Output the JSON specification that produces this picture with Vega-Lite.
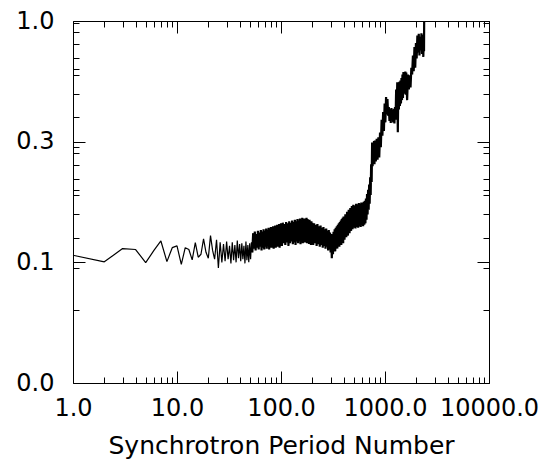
{
  "$schema": "https://vega.github.io/schema/vega-lite/v6.json",
  "width": 416,
  "height": 362,
  "autosize": {"type": "none"},
  "padding": {"left": 73, "top": 21, "right": 60, "bottom": 82},
  "background": "white",
  "data": {"values": [
    {"x":1,"y":0.107},{"x":2,"y":0.1005},{"x":3,"y":0.114},{"x":4,"y":0.113},{"x":5,"y":0.0997},{"x":6,"y":0.112},{"x":7,"y":0.1226},{"x":8,"y":0.1007},{"x":9,"y":0.115},{"x":10,"y":0.117},
    {"x":11,"y":0.098},{"x":12,"y":0.115},{"x":13,"y":0.113},{"x":14,"y":0.1024},{"x":15,"y":0.1206},{"x":16,"y":0.105},{"x":17,"y":0.108},{"x":18,"y":0.125},{"x":19,"y":0.110},{"x":20,"y":0.104},
    {"x":21,"y":0.129},{"x":22,"y":0.112},{"x":23,"y":0.103},{"x":24,"y":0.124},{"x":25,"y":0.0948},{"x":26,"y":0.121},{"x":27,"y":0.100},{"x":28,"y":0.119},{"x":29,"y":0.101},{"x":30,"y":0.122},
    {"x":31,"y":0.103},{"x":32,"y":0.117},{"x":33,"y":0.099},{"x":34,"y":0.121},{"x":35,"y":0.102},{"x":36,"y":0.118},{"x":37,"y":0.100},{"x":38,"y":0.123},{"x":39,"y":0.104},{"x":40,"y":0.119},
    {"x":41,"y":0.101},{"x":42,"y":0.120},{"x":43,"y":0.103},{"x":44,"y":0.117},{"x":45,"y":0.099},{"x":46,"y":0.122},{"x":47,"y":0.102},{"x":48,"y":0.118},{"x":49,"y":0.100},{"x":50,"y":0.120},
    {"x":51,"y":0.103},{"x":52,"y":0.121},{"x":53,"y":0.110},
    {"x":54,"y":0.132},{"x":55,"y":0.114},{"x":56,"y":0.134},{"x":57,"y":0.112},{"x":58,"y":0.131},{"x":59,"y":0.115},{"x":60,"y":0.135},{"x":61,"y":0.113},{"x":62,"y":0.133},{"x":63,"y":0.116},
    {"x":64,"y":0.136},{"x":65,"y":0.112},{"x":66,"y":0.134},{"x":67,"y":0.115},{"x":68,"y":0.137},{"x":69,"y":0.113},{"x":70,"y":0.135},{"x":71,"y":0.116},{"x":72,"y":0.138},{"x":73,"y":0.114},
    {"x":74,"y":0.136},{"x":75,"y":0.117},{"x":76,"y":0.139},{"x":77,"y":0.113},{"x":78,"y":0.137},{"x":79,"y":0.116},{"x":80,"y":0.140},{"x":81,"y":0.115},{"x":82,"y":0.138},{"x":83,"y":0.117},
    {"x":84,"y":0.141},{"x":85,"y":0.114},{"x":86,"y":0.139},{"x":87,"y":0.118},{"x":88,"y":0.142},{"x":89,"y":0.115},{"x":90,"y":0.140},{"x":91,"y":0.117},{"x":92,"y":0.143},{"x":93,"y":0.116},
    {"x":94,"y":0.141},{"x":95,"y":0.118},{"x":96,"y":0.144},{"x":97,"y":0.115},{"x":98,"y":0.142},{"x":99,"y":0.119},{"x":100,"y":0.145},
    {"x":102,"y":0.117},{"x":104,"y":0.146},{"x":106,"y":0.120},{"x":108,"y":0.144},{"x":110,"y":0.118},{"x":112,"y":0.147},{"x":114,"y":0.121},{"x":116,"y":0.145},{"x":118,"y":0.117},{"x":120,"y":0.148},
    {"x":122,"y":0.120},{"x":124,"y":0.146},{"x":126,"y":0.122},{"x":128,"y":0.149},{"x":130,"y":0.119},{"x":132,"y":0.147},{"x":134,"y":0.121},{"x":136,"y":0.150},{"x":138,"y":0.118},{"x":140,"y":0.148},
    {"x":142,"y":0.122},{"x":144,"y":0.151},{"x":146,"y":0.120},{"x":148,"y":0.149},{"x":150,"y":0.123},{"x":152,"y":0.152},{"x":154,"y":0.119},{"x":156,"y":0.150},{"x":158,"y":0.122},{"x":160,"y":0.153},
    {"x":162,"y":0.120},{"x":164,"y":0.149},{"x":166,"y":0.123},{"x":168,"y":0.152},{"x":170,"y":0.121},{"x":172,"y":0.150},{"x":174,"y":0.124},{"x":176,"y":0.153},{"x":178,"y":0.120},{"x":180,"y":0.151},
    {"x":182,"y":0.122},{"x":184,"y":0.149},{"x":186,"y":0.119},{"x":188,"y":0.150},{"x":190,"y":0.121},{"x":192,"y":0.147},{"x":194,"y":0.118},{"x":196,"y":0.148},{"x":198,"y":0.120},{"x":200,"y":0.146},
    {"x":204,"y":0.118},{"x":208,"y":0.145},{"x":212,"y":0.120},{"x":216,"y":0.143},{"x":220,"y":0.117},{"x":224,"y":0.144},{"x":228,"y":0.119},{"x":232,"y":0.141},{"x":236,"y":0.116},{"x":240,"y":0.142},
    {"x":244,"y":0.118},{"x":248,"y":0.139},{"x":252,"y":0.115},{"x":256,"y":0.140},{"x":260,"y":0.117},{"x":264,"y":0.137},{"x":268,"y":0.114},{"x":272,"y":0.138},{"x":276,"y":0.116},{"x":280,"y":0.135},
    {"x":284,"y":0.112},{"x":288,"y":0.136},{"x":292,"y":0.113},{"x":296,"y":0.133},{"x":300,"y":0.110},{"x":304,"y":0.131},{"x":308,"y":0.104},{"x":312,"y":0.130},{"x":316,"y":0.108},{"x":320,"y":0.134},
    {"x":324,"y":0.112},{"x":328,"y":0.137},{"x":332,"y":0.111},{"x":336,"y":0.139},{"x":340,"y":0.115},{"x":344,"y":0.141},{"x":348,"y":0.114},{"x":352,"y":0.143},{"x":356,"y":0.117},{"x":360,"y":0.145},
    {"x":364,"y":0.116},{"x":368,"y":0.147},{"x":372,"y":0.119},{"x":376,"y":0.149},{"x":380,"y":0.118},{"x":384,"y":0.151},{"x":388,"y":0.121},{"x":392,"y":0.153},{"x":396,"y":0.120},{"x":400,"y":0.155},
    {"x":408,"y":0.124},{"x":416,"y":0.158},{"x":424,"y":0.127},{"x":432,"y":0.162},{"x":440,"y":0.129},{"x":448,"y":0.165},{"x":456,"y":0.132},{"x":464,"y":0.168},{"x":472,"y":0.135},{"x":480,"y":0.171},
    {"x":488,"y":0.137},{"x":496,"y":0.173},{"x":504,"y":0.139},{"x":512,"y":0.172},{"x":520,"y":0.138},{"x":528,"y":0.175},{"x":536,"y":0.140},{"x":544,"y":0.174},{"x":552,"y":0.139},{"x":560,"y":0.176},
    {"x":568,"y":0.141},{"x":576,"y":0.175},{"x":584,"y":0.140},{"x":592,"y":0.177},{"x":600,"y":0.142},{"x":608,"y":0.176},{"x":616,"y":0.141},{"x":624,"y":0.178},{"x":632,"y":0.143},{"x":640,"y":0.180},
    {"x":648,"y":0.145},{"x":656,"y":0.184},{"x":664,"y":0.150},{"x":672,"y":0.192},{"x":680,"y":0.158},{"x":688,"y":0.200},{"x":696,"y":0.165},{"x":704,"y":0.210},{"x":712,"y":0.175},{"x":720,"y":0.225},
    {"x":728,"y":0.190},{"x":736,"y":0.255},{"x":744,"y":0.215},{"x":752,"y":0.314},{"x":760,"y":0.250},{"x":768,"y":0.312},{"x":776,"y":0.256},{"x":784,"y":0.318},{"x":792,"y":0.255},{"x":800,"y":0.320},
    {"x":816,"y":0.262},{"x":832,"y":0.325},{"x":848,"y":0.266},{"x":864,"y":0.330},{"x":880,"y":0.272},{"x":896,"y":0.345},{"x":912,"y":0.300},{"x":928,"y":0.390},{"x":944,"y":0.335},{"x":960,"y":0.420},
    {"x":976,"y":0.350},{"x":992,"y":0.455},{"x":1008,"y":0.380},{"x":1024,"y":0.484},{"x":1040,"y":0.410},{"x":1056,"y":0.475},{"x":1072,"y":0.405},{"x":1088,"y":0.440},{"x":1104,"y":0.385},{"x":1120,"y":0.432},
    {"x":1136,"y":0.378},{"x":1152,"y":0.436},{"x":1168,"y":0.390},{"x":1184,"y":0.428},{"x":1200,"y":0.380},{"x":1216,"y":0.433},{"x":1232,"y":0.376},{"x":1248,"y":0.440},{"x":1264,"y":0.390},{"x":1280,"y":0.520},
    {"x":1296,"y":0.420},{"x":1312,"y":0.558},{"x":1328,"y":0.346},{"x":1344,"y":0.540},{"x":1360,"y":0.430},{"x":1376,"y":0.560},{"x":1392,"y":0.445},{"x":1408,"y":0.567},{"x":1424,"y":0.455},{"x":1440,"y":0.580},
    {"x":1456,"y":0.470},{"x":1472,"y":0.600},{"x":1488,"y":0.480},{"x":1504,"y":0.614},{"x":1520,"y":0.500},{"x":1536,"y":0.610},{"x":1552,"y":0.510},{"x":1568,"y":0.618},{"x":1584,"y":0.495},{"x":1600,"y":0.612},
    {"x":1632,"y":0.470},{"x":1664,"y":0.600},{"x":1696,"y":0.520},{"x":1728,"y":0.595},{"x":1760,"y":0.530},{"x":1792,"y":0.640},{"x":1824,"y":0.600},{"x":1856,"y":0.720},{"x":1888,"y":0.620},{"x":1920,"y":0.780},
    {"x":1952,"y":0.640},{"x":1984,"y":0.810},{"x":2016,"y":0.700},{"x":2048,"y":0.870},{"x":2080,"y":0.740},{"x":2112,"y":0.885},{"x":2144,"y":0.720},{"x":2176,"y":0.860},{"x":2208,"y":0.756},{"x":2240,"y":0.890},
    {"x":2272,"y":0.730},{"x":2304,"y":0.875},{"x":2336,"y":0.710},{"x":2360,"y":0.880},{"x":2372,"y":0.750},{"x":2380,"y":1.0}
  ]},
  "layer": [
    {
      "transform": [{"filter": "datum.x <= 54"}],
      "mark": {"type": "line", "color": "black", "strokeWidth": 1.2, "strokeJoin": "bevel"},
      "encoding": {
        "x": {"field": "x", "type": "quantitative",
          "scale": {"type": "log", "domain": [1, 10000], "nice": false},
          "axis": {"orient": "bottom",
            "values": [1,2,3,4,5,6,7,8,9,10,20,30,40,50,60,70,80,90,100,200,300,400,500,600,700,800,900,1000,2000,3000,4000,5000,6000,7000,8000,9000,10000],
            "labelExpr": "indexof([1,10,100,1000,10000], datum.value) >= 0 ? format(datum.value, '.1f') : ''",
            "tickSize": {"condition": {"test": "indexof([1,10,100,1000,10000], datum.value) >= 0", "value": -12}, "value": -6},
            "labelPadding": 25, "labelOverlap": false, "labelFlush": false, "labelBound": false,
            "title": "Synchrotron Period Number", "titleY": 70, "titleBaseline": "alphabetic"}},
        "y": {"field": "y", "type": "quantitative",
          "scale": {"type": "log", "domain": [0.0316228, 1], "nice": false},
          "axis": {"orient": "left",
            "values": [0.0316228,0.0632456,0.0948683,0.1,0.1264911,0.1581139,0.1897367,0.2,0.2213594,0.2529822,0.284605,0.3,0.3162278,0.4,0.5,0.6,0.6324555,0.7,0.8,0.9,0.985,1],
            "labelExpr": "indexof([0.0316228,0.1,0.3162278,1], datum.value) >= 0 ? format(datum.value, '.1f') : ''",
            "tickSize": {"condition": {"test": "indexof([0.0316228,0.1,0.3162278,1], datum.value) >= 0", "value": -12}, "value": -6},
            "labelPadding": 31, "labelBaseline": "middle", "labelOverlap": false, "labelFlush": false, "labelBound": false,
            "title": null}}
      }
    },
    {
      "transform": [{"filter": "datum.x >= 53"}],
      "mark": {"type": "line", "color": "black", "strokeWidth": 2.2, "strokeJoin": "bevel"},
      "encoding": {
        "x": {"field": "x", "type": "quantitative",
          "axis": {"orient": "top",
            "values": [1,2,3,4,5,6,7,8,9,10,20,30,40,50,60,70,80,90,100,200,300,400,500,600,700,800,900,1000,2000,3000,4000,5000,6000,7000,8000,9000,10000],
            "labels": false,
            "tickSize": {"condition": {"test": "indexof([1,10,100,1000,10000], datum.value) >= 0", "value": -12}, "value": -6},
            "title": null}},
        "y": {"field": "y", "type": "quantitative",
          "axis": {"orient": "right",
            "values": [0.0316228,0.0632456,0.0948683,0.1,0.1264911,0.1581139,0.1897367,0.2,0.2213594,0.2529822,0.284605,0.3,0.3162278,0.4,0.5,0.6,0.6324555,0.7,0.8,0.9,0.985,1],
            "labels": false,
            "tickSize": {"condition": {"test": "indexof([0.0316228,0.1,0.3162278,1], datum.value) >= 0", "value": -12}, "value": -6},
            "title": null}}
      }
    }
  ],
  "resolve": {"axis": {"x": "independent", "y": "independent"}},
  "config": {
    "view": {"stroke": null},
    "axis": {"grid": false, "domainColor": "black", "domainWidth": 1, "tickColor": "black", "tickWidth": 1,
      "labelColor": "black", "titleColor": "black", "labelFont": "DejaVu Sans", "titleFont": "DejaVu Sans",
      "labelFontSize": 24, "titleFontSize": 25, "titleFontWeight": "normal"}
  }
}
